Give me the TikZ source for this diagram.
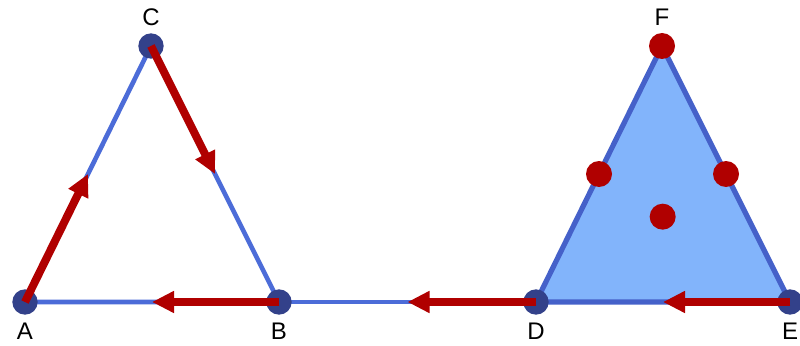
\documentclass[tikz,border=0pt]{standalone}
\usepackage{fontspec}
\setmainfont{Liberation Sans}
\usetikzlibrary{positioning,calc,arrows.meta,backgrounds}

\definecolor{edgeblue}{RGB}{76,108,216}
\definecolor{darkedge}{RGB}{69,97,201}
\definecolor{facefill}{RGB}{130,180,251}
\definecolor{vertexnavy}{RGB}{51,65,138}
\definecolor{flowred}{RGB}{176,0,0}

\tikzset{
  vdot/.style={circle,fill=vertexnavy,inner sep=0pt,minimum size=19pt},
  rdot/.style={circle,fill=flowred,inner sep=0pt,minimum size=19.5pt},
  lbl/.style={inner sep=0pt,font=\fontsize{18}{20}\selectfont},
  bluedge/.style={draw=edgeblue,line width=3.5pt},
  faceedge/.style={draw=darkedge,line width=3.9pt,line join=round,fill=facefill},
  redflow/.style={draw=flowred,line width=6pt,-{Triangle[length=16.5pt,width=15.5pt]}}
}

\begin{document}
\begin{tikzpicture}[x=0.75pt,y=0.75pt,yscale=-1,xscale=1]
	\path[use as bounding box] (0,0) rectangle (800,346);

	% vertices
	\node[vdot] (A) at (25,302) {};
	\node[vdot] (B) at (279,302) {};
	\node[vdot] (C) at (151,46) {};
	\node[vdot] (D) at (536,302) {};
	\node[vdot] (E) at (790,302) {};
	\coordinate (F) at (662,46);

	% midpoints
	\coordinate (mAC) at ($(A)!0.5!(C)$);
	\coordinate (mCB) at ($(C)!0.5!(B)$);
	\coordinate (mBA) at ($(B)!0.5!(A)$);
	\coordinate (mDB) at ($(D)!0.5!(B)$);
	\coordinate (mED) at ($(E)!0.5!(D)$);

	% edges and face
	\begin{scope}[on background layer]
		\draw[faceedge] (D.center) -- (E.center) -- (F) -- cycle;
		\draw[bluedge] (A.center) -- (B.center) -- (C.center) -- cycle;
		\draw[bluedge] (B.center) -- (D.center);
	\end{scope}

	% red dots
	\node[rdot] (Fd) at (F) {};
	\node[rdot] (mDF) at ($(D)!0.5!(F)$) {};
	\node[rdot] (mEF) at ($(E)!0.5!(F)$) {};
	\node[rdot] (cDEF) at ($(D)!0.5!(E)!1/3!(F)$) {};

	% flow arrows
	\draw[redflow] (A.center) -- (mAC);
	\draw[redflow] (C.center) -- (mCB);
	\draw[redflow] (B.center) -- (mBA);
	\draw[redflow] (D.center) -- (mDB);
	\draw[redflow] (E.center) -- (mED);

	% labels
	\node[lbl,below=6pt of A] (lA) {A};
	\node[lbl,below=6pt of B] (lB) {B};
	\node[lbl,above=5pt of C] (lC) {C};
	\node[lbl,below=6pt of D] (lD) {D};
	\node[lbl,below=6pt of E] (lE) {E};
	\node[lbl,above=5pt of Fd] (lF) {F};
\end{tikzpicture}
\end{document}
